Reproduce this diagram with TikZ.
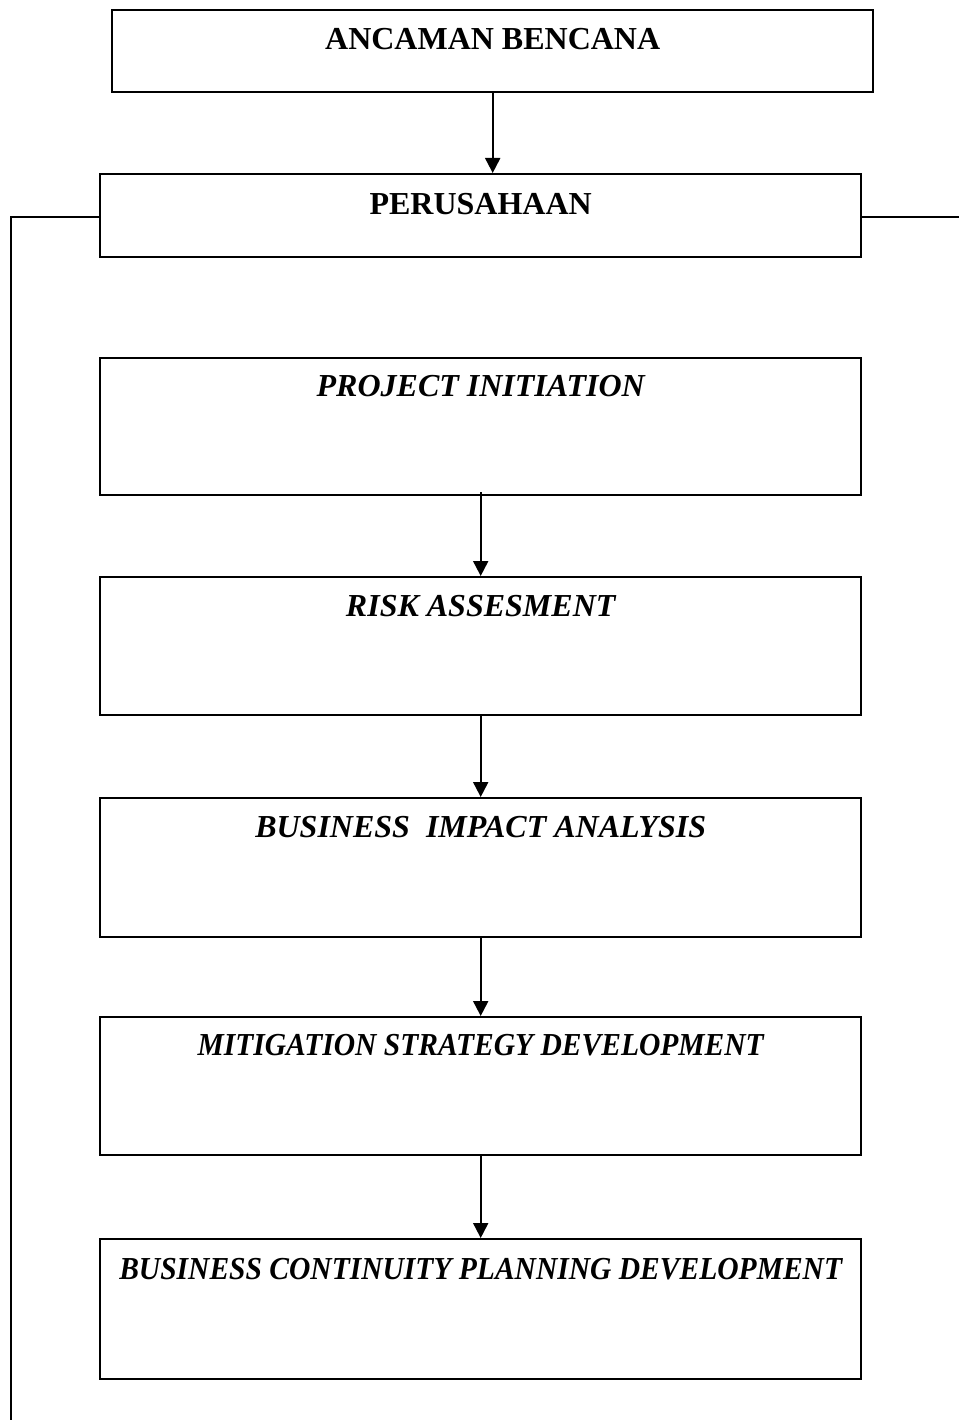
\documentclass[tikz,border=0pt]{standalone}
\usepackage{fontspec}
\setmainfont{Liberation Serif}
\usetikzlibrary{arrows.meta}
\begin{document}
\begin{tikzpicture}[x=1pt,y=1pt,
  stagebox/.style={draw,line width=2.4pt,rectangle,inner sep=0pt,minimum width=761pt},
  headtext/.style={anchor=base,inner sep=0pt,font=\fontsize{32}{36}\selectfont\bfseries},
  steptext/.style={anchor=base,inner sep=0pt,font=\fontsize{32}{36}\selectfont\bfseries\itshape},
  flow/.style={line width=2pt,-{Triangle[length=15pt,width=15pt]}},
  link/.style={line width=2pt}]
\useasboundingbox (0,0) rectangle (959,-1420);

% top two boxes
\node[stagebox,minimum height=82pt,anchor=north west] (b1) at (111,-9) {};
\node[headtext] (t1) at ([yshift=-41pt]b1.north) {ANCAMAN BENCANA};
\node[stagebox,minimum height=83pt,anchor=north west] (b2) at (99,-173) {};
\node[headtext] (t2) at ([yshift=-42pt]b2.north) {PERUSAHAAN};

% process stages
\node[stagebox,minimum height=137pt,anchor=north west] (b3) at (99,-357) {};
\node[steptext] (t3) at ([yshift=-39pt]b3.north) {PROJECT INITIATION};
\node[stagebox,minimum height=138pt,anchor=north west] (b4) at (99,-576) {};
\node[steptext] (t4) at ([yshift=-40pt]b4.north) {RISK ASSESMENT};
\node[stagebox,minimum height=139pt,anchor=north west] (b5) at (99,-797) {};
\node[steptext] (t5) at ([yshift=-40pt]b5.north) {BUSINESS\ \ IMPACT ANALYSIS};
\node[stagebox,minimum height=138pt,anchor=north west] (b6) at (99,-1016) {};
\node[steptext] (t6) at ([yshift=-39pt]b6.north) {\scalebox{0.923}[1]{MITIGATION STRATEGY DEVELOPMENT}};
\node[stagebox,minimum height=140pt,anchor=north west] (b7) at (99,-1238) {};
\node[steptext] (t7) at ([yshift=-41pt]b7.north) {\scalebox{0.923}[1]{BUSINESS CONTINUITY PLANNING DEVELOPMENT}};

% arrows
\draw[flow] (b1.south) -- (b1.south |- b2.north);
\draw[flow] ([yshift=4pt]b3.south) -- (b4.north);
\draw[flow] (b4.south) -- (b5.north);
\draw[flow] (b5.south) -- (b6.north);
\draw[flow] (b6.south) -- (b7.north);

% side lines leaving PERUSAHAAN
\coordinate (lend) at (11,-1420);
\coordinate (rend) at (959,-217);
\draw[link] (b2.west |- rend) -- (lend |- rend) -- (lend);
\draw[link] (b2.east |- rend) -- (rend);
\end{tikzpicture}
\end{document}
